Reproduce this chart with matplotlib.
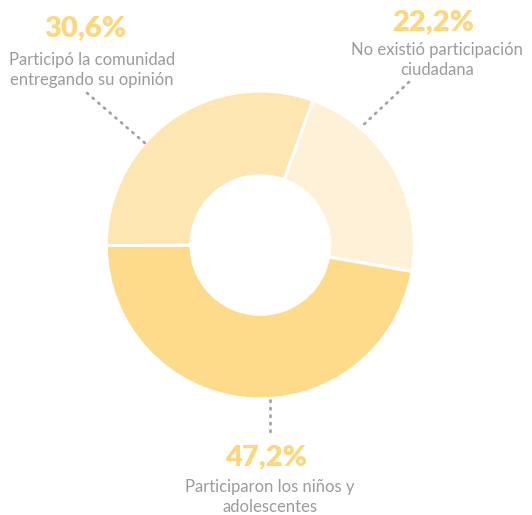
import matplotlib
matplotlib.use("Agg")
import matplotlib.pyplot as plt
from matplotlib.lines import Line2D

values = [22.2, 47.2, 30.6]
pct_labels = ["22,2%", "47,2%", "30,6%"]
desc_labels = ["No existió participación\nciudadana",
               "Participaron los niños y\nadolescentes",
               "Participó la comunidad\nentregando su opinión"]
colors = ["#FFF1D7", "#FEDA8B", "#FEE6B3"]

W, H = 532, 515
fig = plt.figure(figsize=(W / 100, H / 100), dpi=100)
plt.rcParams['font.family'] = ['Lato', 'DejaVu Sans']

cx, cy, R = 260.3, 245, 154
ax = fig.add_axes([(cx - R) / W, (H - cy - R) / H, 2 * R / W, 2 * R / H])
ax.pie(values, colors=colors, startangle=70, counterclock=False, radius=1,
       wedgeprops=dict(width=0.55, edgecolor="white", linewidth=2.2))
ax.set_xlim(-1, 1)
ax.set_ylim(-1, 1)
ax.set_aspect("auto")
ax.axis("off")

def fx(x):
    return x / W

def fy(y):
    return 1 - y / H

pct_color = "#FDD67E"
txt_color = "#9B9B9B"
line_color = "#A3A3A3"

# label placements (pixel positions)
pct_pos = [(433, 22), (266, 457), (85, 28)]
desc_pos = [(437, 60), (270, 497), (92, 70)]
lines = [((409, 82), (360, 128)), ((270, 400), (270, 433)), ((87, 93), (146, 144))]

for i in range(3):
    x, y = pct_pos[i]
    fig.text(fx(x), fy(y), pct_labels[i], ha="center", va="center",
             fontsize=21, fontweight="heavy", color=pct_color)
    x, y = desc_pos[i]
    fig.text(fx(x), fy(y), desc_labels[i], ha="center", va="center",
             fontsize=12, color=txt_color, linespacing=1.3)
    (x0, y0), (x1, y1) = lines[i]
    fig.add_artist(Line2D([fx(x0), fx(x1)], [fy(y0), fy(y1)], transform=fig.transFigure,
                          color=line_color, linewidth=2, linestyle=(0, (0.5, 2.2)),
                          dash_capstyle="round"))

fig.savefig("out.png", dpi=100)
